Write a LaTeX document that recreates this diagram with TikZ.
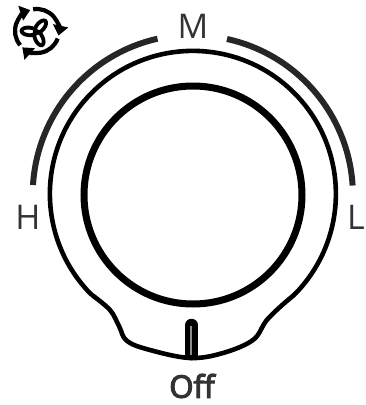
\documentclass[tikz,border=0pt]{standalone}
\usepackage{fontspec}
\setmainfont{Open Sans}
\newfontfamily\offfont[FakeBold=4]{Open Sans}
\usetikzlibrary{arrows.meta}
\definecolor{labelgray}{HTML}{333333}
\tikzset{
  speedlabel/.style={text=labelgray,font=\fontsize{34}{34}\selectfont,inner sep=0pt},
  speedarc/.style={line width=6pt,draw=black!85},
  fanblade/.style={line width=3.8pt,draw=black}
}
\begin{document}
\begin{tikzpicture}[x=1pt,y=-1pt,>=stealth]
  \useasboundingbox (0,0) rectangle (365,405);
  % Speed arcs
  \draw[speedarc] (33,185) arc (-176.5:-102.7:160);
  \draw[speedarc] (227,39) arc (-77.7:-3.5:160);
  % Dial ring and skirt
  \draw[line width=4.6pt,line join=round] (294,295) arc (45:-225:143)
    plot[smooth,tension=0.6] coordinates {(92,295) (110,310) (119,326) (127,341) (150,350) (190,358) (223,353) (253,340) (266,321) (280,307) (294,295)};
  % Knob
  \draw[line width=7pt] (193,195) circle (109);
  % Pointer
  \draw[line width=12.5pt,line cap=round] (191.5,325) -- (191.5,354);
  \draw[line width=12.5pt] (191.5,340) -- (191.5,357);
  \draw[line width=1.4pt,draw=black!45] (191,326) -- (191,355);
  % Labels
  \node[speedlabel] (speedM) at (193,26) {M};
  \node[speedlabel] (speedH) at (28,217) {H};
  \node[speedlabel] (speedL) at (356,217) {L};
  \node[text=labelgray,font=\fontsize{31}{31}\selectfont\offfont,inner sep=0pt] (speedOff) at (192,386) {Off};
  % Fan icon
  \foreach \ang in {-100,20,140}
    \draw[line width=4.2pt,draw=black,-{Triangle[length=10pt,width=15pt]}]
      ([shift={(\ang:22)}]37,31) arc (\ang:\ang+112:22);
  \foreach \ang in {-65,50,175}
    \draw[fanblade,rotate around={\ang:(36,32)}] (43,32) ellipse (7.5 and 3.8);
\end{tikzpicture}
\end{document}
